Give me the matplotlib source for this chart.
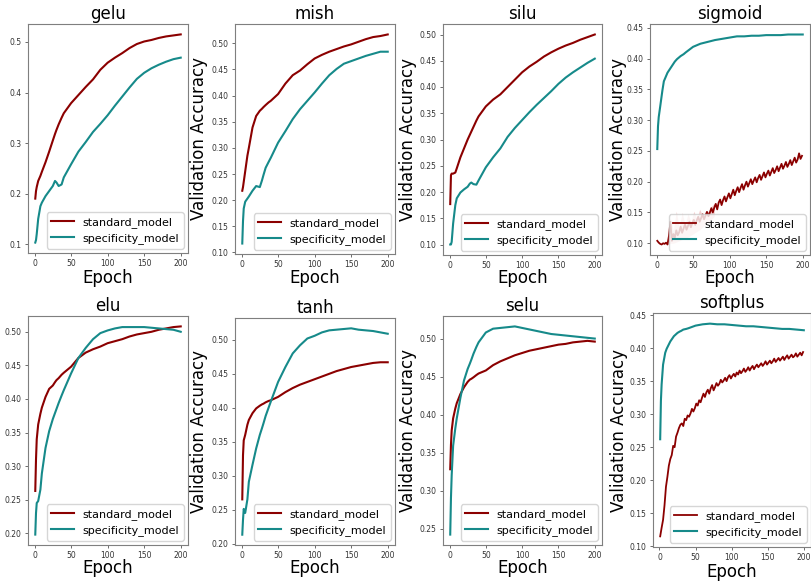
import matplotlib
matplotlib.use("Agg")
import matplotlib.pyplot as plt
from matplotlib.ticker import MultipleLocator

plt.rcParams['font.family'] = ['DejaVu Sans']

# ---------------- data ----------------
activations = ["gelu", "mish", "silu", "sigmoid", "elu", "tanh", "selu", "softplus"]
series_names = ["standard_model", "specificity_model"]

epochs = [1, 2, 3, 5, 8, 10, 15, 20, 25, 28, 30, 33, 37, 40, 50, 60, 70, 80, 90,
          100, 110, 120, 130, 140, 150, 160, 170, 180, 190, 200]

gelu_standard = [0.190, 0.205, 0.213, 0.225, 0.235, 0.243, 0.262, 0.283, 0.305, 0.318,
                 0.326, 0.337, 0.350, 0.359, 0.379, 0.395, 0.411, 0.426, 0.445, 0.459,
                 0.469, 0.478, 0.488, 0.496, 0.501, 0.504, 0.508, 0.511, 0.513, 0.515]
gelu_specificity = [0.103, 0.108, 0.120, 0.150, 0.175, 0.182, 0.195, 0.205, 0.215, 0.225,
                    0.222, 0.215, 0.218, 0.232, 0.258, 0.283, 0.302, 0.322, 0.338, 0.355,
                    0.374, 0.392, 0.410, 0.427, 0.439, 0.448, 0.455, 0.461, 0.466, 0.469]

mish_standard = [0.218, 0.225, 0.235, 0.255, 0.285, 0.300, 0.339, 0.361, 0.371, 0.375,
                 0.378, 0.382, 0.387, 0.390, 0.403, 0.423, 0.439, 0.448, 0.460, 0.471,
                 0.478, 0.484, 0.489, 0.494, 0.498, 0.503, 0.508, 0.512, 0.514, 0.517]
mish_specificity = [0.117, 0.160, 0.184, 0.197, 0.203, 0.207, 0.218, 0.227, 0.225, 0.238,
                    0.248, 0.262, 0.273, 0.281, 0.310, 0.332, 0.355, 0.374, 0.390, 0.406,
                    0.423, 0.439, 0.451, 0.461, 0.466, 0.471, 0.476, 0.480, 0.484, 0.484]

silu_standard = [0.177, 0.232, 0.235, 0.235, 0.237, 0.245, 0.266, 0.283, 0.300, 0.309,
                 0.315, 0.324, 0.336, 0.344, 0.363, 0.376, 0.386, 0.400, 0.414, 0.428,
                 0.439, 0.448, 0.458, 0.466, 0.473, 0.479, 0.484, 0.490, 0.495, 0.500]
silu_specificity = [0.100, 0.100, 0.105, 0.140, 0.175, 0.188, 0.199, 0.205, 0.210, 0.216,
                    0.218, 0.215, 0.214, 0.222, 0.247, 0.266, 0.283, 0.305, 0.322, 0.337,
                    0.352, 0.366, 0.379, 0.392, 0.406, 0.418, 0.428, 0.437, 0.446, 0.454]

sigmoid_specificity = [0.253, 0.290, 0.305, 0.322, 0.348, 0.363, 0.377, 0.386, 0.395, 0.399,
                       0.401, 0.404, 0.407, 0.410, 0.419, 0.424, 0.427, 0.430, 0.432, 0.434,
                       0.436, 0.436, 0.437, 0.437, 0.438, 0.438, 0.438, 0.439, 0.439, 0.439]

noisy_epochs = list(range(1, 200, 2))
sigmoid_standard = [0.104, 0.101, 0.099, 0.098, 0.100, 0.099, 0.101, 0.098, 0.112, 0.135,
                    0.104, 0.115, 0.109, 0.121, 0.113, 0.118, 0.127, 0.117, 0.124, 0.131,
                    0.122, 0.128, 0.135, 0.126, 0.133, 0.138, 0.130, 0.137, 0.143, 0.135,
                    0.141, 0.147, 0.139, 0.145, 0.151, 0.144, 0.150, 0.157, 0.150, 0.158,
                    0.164, 0.155, 0.166, 0.171, 0.162, 0.170, 0.176, 0.168, 0.175, 0.181,
                    0.173, 0.180, 0.187, 0.178, 0.185, 0.191, 0.183, 0.190, 0.196, 0.187,
                    0.194, 0.200, 0.192, 0.198, 0.204, 0.196, 0.202, 0.207, 0.199, 0.206,
                    0.211, 0.203, 0.209, 0.215, 0.207, 0.213, 0.218, 0.210, 0.216, 0.222,
                    0.214, 0.219, 0.225, 0.217, 0.223, 0.229, 0.221, 0.226, 0.232, 0.224,
                    0.229, 0.235, 0.227, 0.233, 0.239, 0.231, 0.236, 0.246, 0.237, 0.242]
sigmoid_band_epochs = [15, 19, 23, 27, 31, 35, 39, 43, 47, 51, 55, 59, 63, 67, 71, 75, 79]
sigmoid_band_low = [0.098, 0.100, 0.100, 0.102, 0.104, 0.106, 0.108, 0.110, 0.113, 0.116,
                    0.119, 0.122, 0.126, 0.130, 0.134, 0.139, 0.144]
sigmoid_band_high = [0.104, 0.140, 0.120, 0.152, 0.125, 0.150, 0.130, 0.148, 0.135, 0.152,
                     0.140, 0.155, 0.145, 0.150, 0.152, 0.160, 0.165]

elu_standard = [0.263, 0.310, 0.340, 0.362, 0.378, 0.387, 0.403, 0.415, 0.420, 0.425,
                0.428, 0.431, 0.436, 0.439, 0.448, 0.461, 0.469, 0.474, 0.478, 0.483,
                0.486, 0.489, 0.493, 0.496, 0.498, 0.500, 0.503, 0.505, 0.507, 0.508]
elu_specificity = [0.198, 0.230, 0.245, 0.248, 0.265, 0.289, 0.327, 0.352, 0.370, 0.379,
                   0.385, 0.394, 0.405, 0.413, 0.438, 0.461, 0.476, 0.489, 0.498, 0.502,
                   0.505, 0.507, 0.507, 0.507, 0.507, 0.506, 0.505, 0.504, 0.503, 0.500]

tanh_standard = [0.265, 0.330, 0.352, 0.360, 0.375, 0.382, 0.392, 0.399, 0.403, 0.405,
                 0.406, 0.408, 0.410, 0.411, 0.416, 0.423, 0.429, 0.434, 0.438, 0.442,
                 0.446, 0.450, 0.454, 0.457, 0.460, 0.462, 0.464, 0.466, 0.467, 0.467]
tanh_specificity = [0.213, 0.235, 0.251, 0.245, 0.265, 0.291, 0.316, 0.340, 0.360, 0.370,
                    0.377, 0.388, 0.400, 0.409, 0.438, 0.460, 0.480, 0.492, 0.502, 0.506,
                    0.511, 0.514, 0.515, 0.516, 0.517, 0.515, 0.514, 0.513, 0.511, 0.509]

selu_standard = [0.328, 0.360, 0.379, 0.395, 0.408, 0.415, 0.427, 0.436, 0.443, 0.446,
                 0.447, 0.449, 0.452, 0.454, 0.458, 0.465, 0.470, 0.474, 0.478, 0.481,
                 0.484, 0.486, 0.488, 0.490, 0.492, 0.493, 0.495, 0.496, 0.497, 0.496]
selu_specificity = [0.242, 0.290, 0.320, 0.359, 0.382, 0.395, 0.422, 0.445, 0.460, 0.467,
                    0.472, 0.480, 0.489, 0.495, 0.508, 0.513, 0.514, 0.515, 0.516, 0.514,
                    0.512, 0.510, 0.508, 0.506, 0.505, 0.504, 0.503, 0.502, 0.501, 0.500]

softplus_specificity = [0.262, 0.320, 0.345, 0.375, 0.393, 0.399, 0.410, 0.418, 0.423, 0.425,
                        0.426, 0.428, 0.429, 0.430, 0.434, 0.436, 0.437, 0.436, 0.436, 0.435,
                        0.434, 0.433, 0.433, 0.432, 0.431, 0.430, 0.429, 0.429, 0.428, 0.427]
softplus_standard = [0.115, 0.128, 0.140, 0.162, 0.190, 0.205, 0.222, 0.232, 0.238, 0.252,
                     0.250, 0.266, 0.272, 0.279, 0.284, 0.286, 0.282, 0.293, 0.291, 0.298,
                     0.296, 0.301, 0.308, 0.304, 0.309, 0.316, 0.313, 0.321, 0.318, 0.325,
                     0.331, 0.326, 0.333, 0.337, 0.331, 0.339, 0.344, 0.336, 0.341, 0.347,
                     0.343, 0.346, 0.352, 0.348, 0.351, 0.355, 0.350, 0.356, 0.359, 0.354,
                     0.358, 0.361, 0.357, 0.363, 0.360, 0.366, 0.362, 0.365, 0.369, 0.364,
                     0.367, 0.371, 0.366, 0.370, 0.373, 0.368, 0.372, 0.375, 0.371, 0.374,
                     0.377, 0.373, 0.376, 0.380, 0.375, 0.378, 0.381, 0.377, 0.380, 0.384,
                     0.379, 0.382, 0.385, 0.381, 0.384, 0.387, 0.382, 0.386, 0.389, 0.384,
                     0.387, 0.390, 0.386, 0.388, 0.392, 0.387, 0.390, 0.393, 0.389, 0.394]

xticks = [0, 50, 100, 150, 200]

# ---------------- layout (pixel boxes: left, top, right, bottom) ----------------
W, H = 812, 582
boxes = {
    "gelu": (28, 24, 188, 253), "mish": (235, 24, 395, 254),
    "silu": (443, 24, 602, 255), "sigmoid": (650, 24, 810, 255),
    "elu": (28, 316, 188, 545), "tanh": (235, 318, 395, 545),
    "selu": (443, 316, 602, 545), "softplus": (653, 313, 811, 547),
}
ylabel_right = {"mish": 208, "silu": 417, "sigmoid": 627,
                "tanh": 208, "selu": 417, "softplus": 628}
xlabel_top = {"gelu": 269, "mish": 269, "silu": 269, "sigmoid": 269,
              "elu": 559, "tanh": 559, "selu": 559, "softplus": 563}
ystep = {"gelu": 0.1}

RED = "#8b0000"
TEAL = "#168a8a"

fig = plt.figure(figsize=(W / 100, H / 100), dpi=100)

panel_data = {
    "gelu": (epochs, gelu_standard, epochs, gelu_specificity),
    "mish": (epochs, mish_standard, epochs, mish_specificity),
    "silu": (epochs, silu_standard, epochs, silu_specificity),
    "sigmoid": (noisy_epochs, sigmoid_standard, epochs, sigmoid_specificity),
    "elu": (epochs, elu_standard, epochs, elu_specificity),
    "tanh": (epochs, tanh_standard, epochs, tanh_specificity),
    "selu": (epochs, selu_standard, epochs, selu_specificity),
    "softplus": (noisy_epochs, softplus_standard, epochs, softplus_specificity),
}

for name in activations:
    l, t, r, b = boxes[name]
    ax = fig.add_axes([l / W, 1 - b / H, (r - l) / W, (b - t) / H])
    xs, ys, xp, yp = panel_data[name]
    if name == "sigmoid":
        ax.fill_between(sigmoid_band_epochs, sigmoid_band_low, sigmoid_band_high,
                        color="#e8a0a0", alpha=0.5, lw=0)
    lw_red = 1.3 if xs is noisy_epochs else 1.5
    ax.plot(xs, ys, color=RED, lw=lw_red, label=series_names[0])
    ax.plot(xp, yp, color=TEAL, lw=1.5, label=series_names[1])
    ax.set_xticks(xticks)
    ax.yaxis.set_major_locator(MultipleLocator(ystep.get(name, 0.05)))
    ax.set_title(name, fontsize=12, pad=3.5)
    ax.set_xlabel("Epoch", fontsize=12)
    ax.xaxis.set_label_coords(0.5, -(xlabel_top[name] - b) / (b - t))
    if name in ylabel_right:
        ax.set_ylabel("Validation Accuracy", fontsize=12)
        ax.yaxis.set_label_coords((ylabel_right[name] - l) / (r - l), 0.5)
    ax.tick_params(labelsize=5.5, length=2.5, width=0.6, color="#555555",
                   labelcolor="#333333", pad=2)
    for sp in ax.spines.values():
        sp.set_color("#7f7f7f")
        sp.set_linewidth(0.8)
    ax.legend(loc="lower right", fontsize=8, borderaxespad=0.4)

fig.savefig("out.png", dpi=100)
